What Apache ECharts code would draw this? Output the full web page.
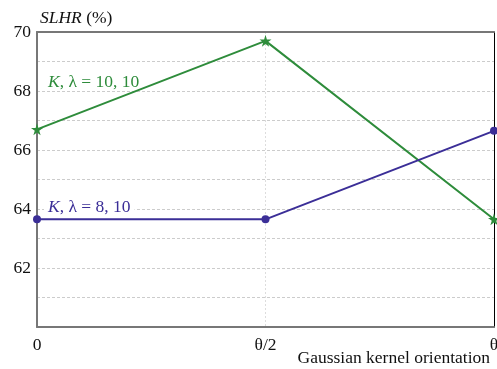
<!DOCTYPE html>
<html>
<head>
<meta charset="utf-8">
<script src="https://cdn.jsdelivr.net/npm/echarts@6/dist/echarts.min.js"></script>
<style>
  html, body { margin: 0; padding: 0; background: #fff; }
  #chart { width: 497px; height: 369px; }
</style>
</head>
<body>
<div id="chart"></div>
<script>
var categories = ['0', 'θ/2', 'θ'];
var greenValues = [66.7, 69.7, 63.65];
var blueValues = [63.65, 63.65, 66.65];
var yTickLabels = [62, 64, 66, 68, 70];

var GREEN = '#2e8c3b';
var BLUE = '#3b2e97';
var FONT = '"Liberation Serif", "DejaVu Serif", serif';
var FS = 17.5;

var chart = echarts.init(document.getElementById('chart'), null, { renderer: 'canvas' });

chart.setOption({
  animation: false,
  grid: { left: 37, right: 3, top: 32, bottom: 42, outerBoundsMode: 'none', containLabel: false },
  xAxis: [{
    type: 'category',
    data: categories,
    boundaryGap: false,
    axisLine: { lineStyle: { color: '#777', width: 2 } },
    axisTick: { show: false },
    axisLabel: { color: '#111', fontFamily: FONT, fontSize: FS, margin: 9 },
    splitLine: { show: true, lineStyle: { color: '#ddd', type: [2, 2], width: 1 } }
  }, {
    type: 'category',
    data: categories,
    position: 'top',
    boundaryGap: false,
    axisLine: { lineStyle: { color: '#777', width: 2 } },
    axisTick: { show: false },
    axisLabel: { show: false }
  }],
  yAxis: [{
    type: 'value',
    min: 60,
    max: 70,
    interval: 1,
    axisLine: { show: true, lineStyle: { color: '#777', width: 2 } },
    axisTick: { show: false },
    axisLabel: {
      color: '#111', fontFamily: FONT, fontSize: FS, margin: 6,
      formatter: function (v) { return yTickLabels.indexOf(v) >= 0 ? String(v) : ''; }
    },
    splitLine: { show: true, lineStyle: { color: '#ccc', type: [3, 2], width: 1 } }
  }, {
    type: 'value',
    min: 60,
    max: 70,
    interval: 1,
    position: 'right',
    axisLine: { show: true, lineStyle: { color: '#000', width: 1 } },
    axisTick: { show: false },
    axisLabel: { show: false },
    splitLine: { show: false }
  }],
  series: [{
    type: 'line',
    data: greenValues,
    color: GREEN,
    symbol: 'path://M50,0 L61,35 L98,35 L68,57 L79,91 L50,70 L21,91 L32,57 L2,35 L39,35 Z',
    symbolSize: 12,
    lineStyle: { width: 2, color: GREEN },
    itemStyle: { color: GREEN },
    z: 3
  }, {
    type: 'line',
    data: blueValues,
    color: BLUE,
    symbol: 'circle',
    symbolSize: 8,
    lineStyle: { width: 2, color: BLUE },
    itemStyle: { color: BLUE },
    z: 3
  }],
  graphic: [{
    type: 'text',
    left: 40, top: 9,
    style: {
      text: '{i|SLHR} (%)',
      font: FS + 'px ' + FONT,
      fill: '#111',
      rich: { i: { fontStyle: 'italic', fontFamily: FONT, fontSize: FS, fill: '#111' } }
    }
  }, {
    type: 'text',
    left: 48, top: 73,
    style: {
      text: '{i|K}, λ = 10, 10',
      font: FS + 'px ' + FONT,
      fill: GREEN,
      rich: { i: { fontStyle: 'italic', fontFamily: FONT, fontSize: FS, fill: GREEN } }
    }
  }, {
    type: 'text',
    left: 44, top: 198,
    z: 10,
    style: {
      text: '{i|K}, λ = 8, 10',
      font: FS + 'px ' + FONT,
      fill: BLUE,
      backgroundColor: '#fff',
      padding: [0, 4, 0, 4],
      rich: { i: { fontStyle: 'italic', fontFamily: FONT, fontSize: FS, fill: BLUE } }
    }
  }, {
    type: 'text',
    right: 7, top: 349,
    style: {
      text: 'Gaussian kernel orientation',
      font: FS + 'px ' + FONT,
      fill: '#111'
    }
  }]
});
</script>
</body>
</html>
